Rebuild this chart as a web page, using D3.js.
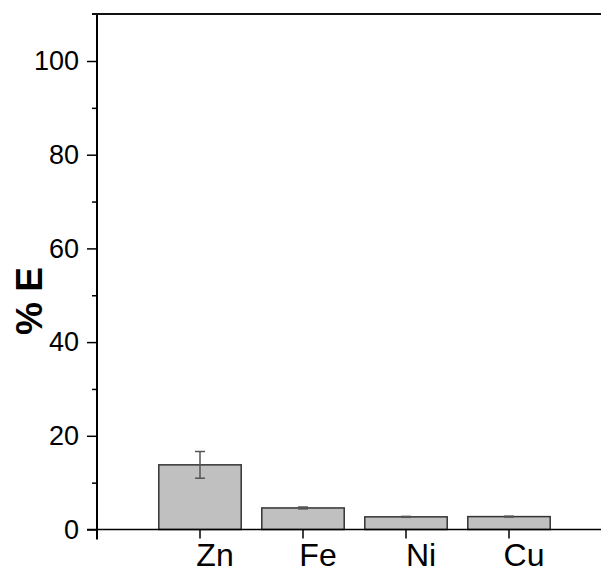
<!DOCTYPE html>
<html>
<head>
<meta charset="utf-8">
<script src="https://cdn.jsdelivr.net/npm/d3@7"></script>
<style>
  html, body { margin: 0; padding: 0; background: #fff; }
  svg { display: block; font-family: "Liberation Sans", Arial, sans-serif; }
</style>
</head>
<body>
<svg id="chart" width="601" height="570"></svg>
<script>
// Extraction efficiency per metal
const metals = ["Zn", "Fe", "Ni", "Cu"];
const extraction = [13.8, 4.6, 2.7, 2.75];
const extractionErr = [2.85, 0.2, 0.1, 0.1];
const yMajorTicks = [0, 20, 40, 60, 80, 100];
const yMinorTicks = [10, 30, 50, 70, 90];

const svg = d3.select("#chart");

const axisX = 97;      // left axis position
const topY = 14;       // top frame
const baseY = 529.5;   // x axis position

const y = d3.scaleLinear().domain([0, 110]).range([baseY, baseY - 110 * 4.685]);
const x = d3.scaleBand()
  .domain(metals)
  .range([148.5, 560.5])
  .paddingInner(0.2)
  .paddingOuter(0.1);

// Bars
const g = svg.append("g");
g.selectAll("rect.bar")
  .data(metals)
  .join("rect")
  .attr("class", "bar")
  .attr("x", d => x(d))
  .attr("width", x.bandwidth())
  .attr("y", (d, i) => y(extraction[i]))
  .attr("height", (d, i) => y(0) - y(extraction[i]))
  .attr("fill", "#c0c0c0")
  .attr("stroke", "#333")
  .attr("stroke-width", 1.5);

// Error bars
const errG = g.selectAll("g.err")
  .data(metals)
  .join("g")
  .attr("class", "err")
  .attr("stroke", "#555")
  .attr("stroke-width", 1.5);
const cx = d => x(d) + x.bandwidth() / 2;
errG.append("line")
  .attr("x1", cx).attr("x2", cx)
  .attr("y1", (d, i) => y(extraction[i] + extractionErr[i]))
  .attr("y2", (d, i) => y(extraction[i] - extractionErr[i]));
errG.append("line")
  .attr("x1", d => cx(d) - 5).attr("x2", d => cx(d) + 5)
  .attr("y1", (d, i) => y(extraction[i] + extractionErr[i]))
  .attr("y2", (d, i) => y(extraction[i] + extractionErr[i]));
errG.append("line")
  .attr("x1", d => cx(d) - 5).attr("x2", d => cx(d) + 5)
  .attr("y1", (d, i) => y(extraction[i] - extractionErr[i]))
  .attr("y2", (d, i) => y(extraction[i] - extractionErr[i]));

// X axis
const xAxis = svg.append("g")
  .attr("transform", `translate(0,${baseY})`)
  .call(d3.axisBottom(x).tickSize(9).tickSizeOuter(0));
xAxis.select(".domain").remove();
xAxis.selectAll(".tick line").attr("stroke", "#000").attr("stroke-width", 1.5);
xAxis.selectAll(".tick text")
  .attr("font-size", 32)
  .attr("fill", "#000")
  .attr("y", 0)
  .attr("dy", 36)
  .attr("dx", 15)
  .attr("font-family", "Liberation Sans, Arial, sans-serif");
svg.append("line")
  .attr("x1", 87).attr("x2", 601)
  .attr("y1", baseY).attr("y2", baseY)
  .attr("stroke", "#000").attr("stroke-width", 1.5);

// Y axis: minor ticks then major ticks with labels
const yMinor = svg.append("g")
  .attr("transform", `translate(${axisX},0)`)
  .call(d3.axisLeft(y).tickValues(yMinorTicks).tickSize(5).tickFormat(""));
yMinor.select(".domain").remove();
yMinor.selectAll(".tick line").attr("stroke", "#000").attr("stroke-width", 1.5);

const yAxis = svg.append("g")
  .attr("transform", `translate(${axisX},0)`)
  .call(d3.axisLeft(y).tickValues(yMajorTicks).tickSize(10).tickPadding(8));
yAxis.select(".domain").remove();
yAxis.selectAll(".tick line").attr("stroke", "#000").attr("stroke-width", 1.5);
yAxis.selectAll(".tick text")
  .attr("font-size", 27)
  .attr("fill", "#000")
  .attr("font-family", "Liberation Sans, Arial, sans-serif");

// Left axis line (extends slightly below the x axis) and top frame
svg.append("line")
  .attr("x1", axisX).attr("x2", axisX)
  .attr("y1", topY).attr("y2", baseY + 10)
  .attr("stroke", "#000").attr("stroke-width", 2);
svg.append("line")
  .attr("x1", 92).attr("x2", 601)
  .attr("y1", topY).attr("y2", topY)
  .attr("stroke", "#111").attr("stroke-width", 2);

// Y axis title
svg.append("text")
  .attr("transform", "translate(42,301) rotate(-90)")
  .attr("text-anchor", "middle")
  .attr("font-size", 37)
  .attr("font-weight", "bold")
  .attr("fill", "#000")
  .text("% E");
</script>
</body>
</html>
